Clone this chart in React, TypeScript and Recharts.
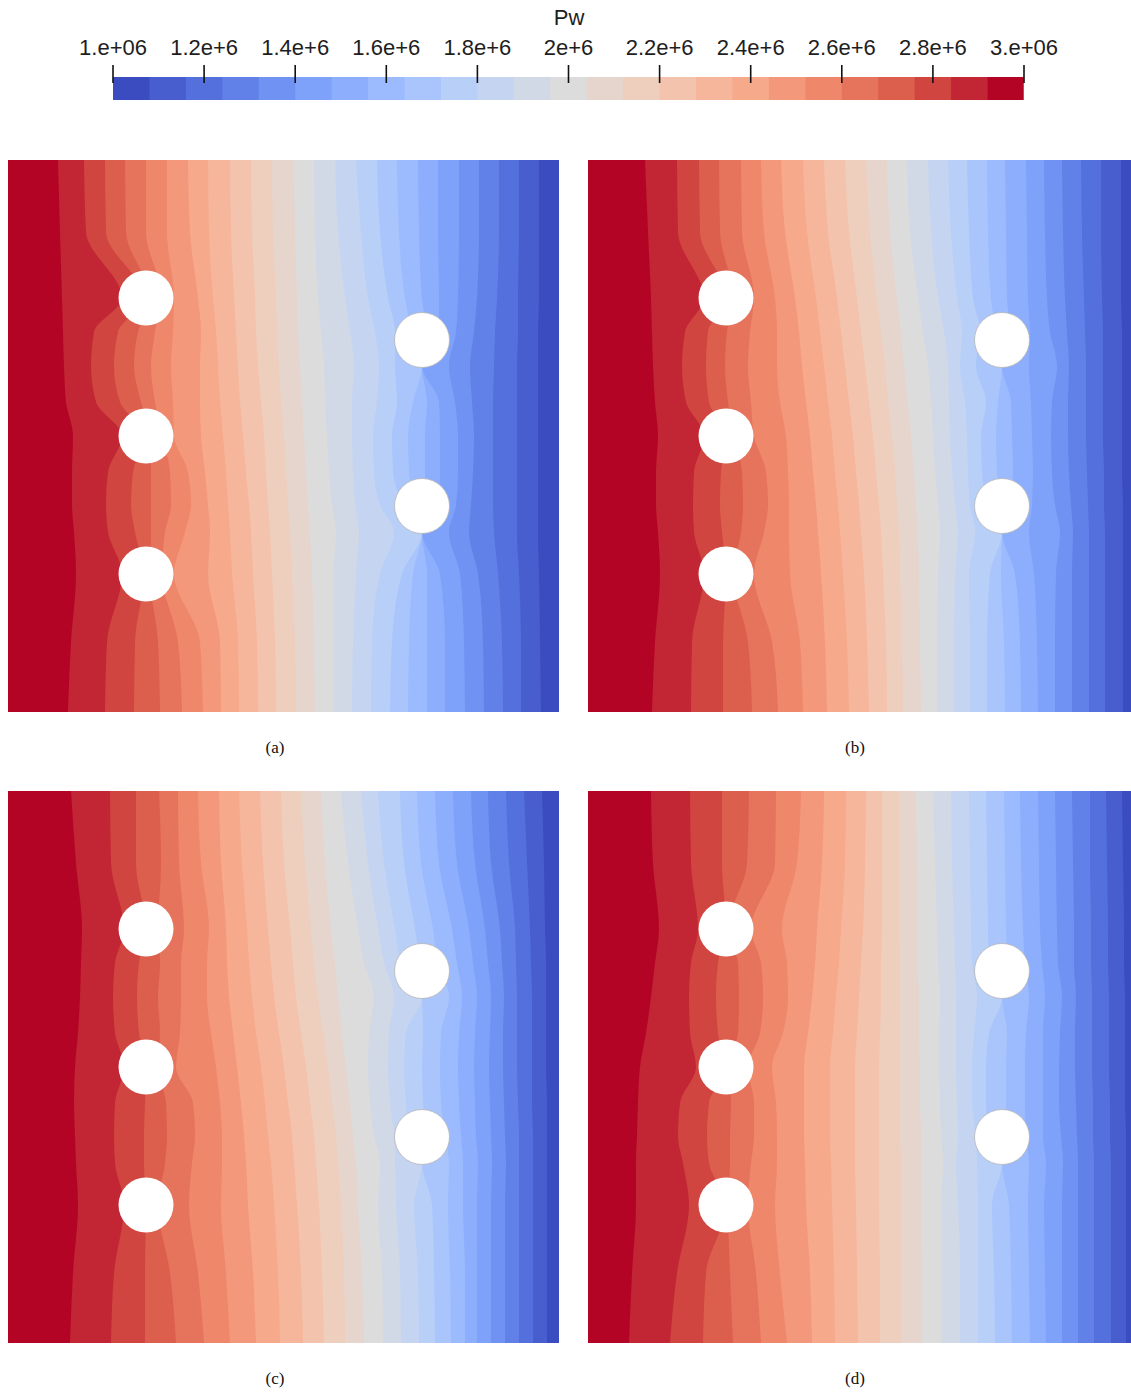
import React from 'react';
import { ComposedChart, Area, Scatter, XAxis, YAxis, Label } from 'recharts';

// 25 discrete colours of the Pw colour bar, from 1e6 (blue) to 3e6 (red)
const COLORS = [
  '#3b4cc0', '#485ecf', '#5470dd', '#6281e8', '#7092f2', '#7ea2f9', '#8caefc', '#9bbbfe',
  '#a9c5fc', '#b8cff8', '#c5d5f1', '#d1d9e6', '#dddcdc', '#e6d5cd', '#eecebd', '#f3c3ad',
  '#f5b69c', '#f6a98b', '#f3987b', '#ef876b', '#e6735c', '#dc5f4d', '#d0453f', '#c22533', '#b40426',
];
const LEVELS = [
  1000000, 1080000, 1160000, 1240000, 1320000, 1400000, 1480000, 1560000, 1640000, 1720000,
  1800000, 1880000, 1960000, 2040000, 2120000, 2200000, 2280000, 2360000, 2440000, 2520000,
  2600000, 2680000, 2760000, 2840000, 2920000, 3000000,
];
const TICKS = [1000000, 1200000, 1400000, 1600000, 1800000, 2000000, 2200000, 2400000, 2600000, 2800000, 3000000];
const TICK_LABELS = ['1.e+06', '1.2e+6', '1.4e+6', '1.6e+6', '1.8e+6', '2e+6', '2.2e+6', '2.4e+6', '2.6e+6', '2.8e+6', '3.e+06'];
const BAR_TITLE = 'Pw';
const BAR_ROWS_Y = [0, 1];

// vertical sample positions (px from panel top) where contour boundaries were read
const Y_SAMPLES = [0, 70, 138, 180, 207, 240, 276, 310, 346, 380, 414, 480, 552];

// contour boundaries B0 (3e6 side) .. B23 (1e6 side): x position (px) at each Y sample
const PANEL_A = [
  [60, 63, 68, 66, 64, 64, 65, 58, 56, 55, 54, 52, 50],
  [97, 99, 114, 100, 98, 100, 114, 88, 83, 86, 114, 78, 76],
  [126, 127, 136, 127, 123, 125, 136, 112, 106, 110, 136, 98, 97],
  [152, 150, 142, 143, 143, 143, 142, 133, 126, 130, 142, 118, 117],
  [174, 170, 154, 157, 163, 162, 154, 147, 143, 147, 154, 138, 138],
  [195, 192, 166, 177, 183, 180, 166, 165, 163, 165, 166, 159, 159],
  [213, 212, 200, 202, 200, 197, 193, 192, 192, 193, 190, 182, 180],
  [231, 230, 224, 222, 220, 218, 215, 212, 210, 208, 205, 201, 200],
  [250, 249, 245, 243, 241, 238, 235, 232, 230, 228, 226, 223, 222],
  [268, 267, 264, 262, 260, 258, 256, 253, 250, 248, 247, 244, 243],
  [288, 287, 284, 282, 280, 278, 276, 273, 271, 269, 268, 265, 264],
  [307, 306, 304, 302, 300, 298, 296, 294, 292, 290, 289, 287, 286],
  [325, 325, 325, 328, 324, 321, 319, 317, 316, 313, 310, 307, 306],
  [344, 345, 348, 351, 347, 345, 344, 344, 346, 342, 337, 330, 327],
  [363, 364, 372, 386, 372, 366, 365, 369, 371, 367, 360, 353, 348],
  [382, 384, 394, 414, 396, 385, 384, 389, 387, 387, 380, 372, 369],
  [400, 401, 405, 414, 409, 401, 400, 405, 414, 404, 397, 391, 389],
  [419, 419, 419, 414, 419, 417, 417, 419, 414, 418, 414, 411, 410],
  [437, 437, 432, 414, 430, 432, 432, 431, 414, 431, 431, 430, 430],
  [457, 456, 452, 441, 448, 450, 450, 447, 441, 448, 450, 451, 451],
  [476, 475, 470, 461, 463, 465, 466, 464, 462, 466, 469, 471, 471],
  [495, 494, 490, 486, 485, 485, 485, 485, 486, 487, 489, 491, 491],
  [513, 513, 511, 509, 509, 509, 509, 509, 509, 510, 510, 511, 511],
  [533, 532, 531, 530, 530, 530, 530, 530, 530, 530, 531, 531, 531],
];
const PANEL_B = [
  [64, 67, 72, 70, 68, 68, 70, 67, 65, 64, 63, 60, 57],
  [103, 104, 116, 106, 105, 106, 116, 98, 94, 97, 116, 90, 89],
  [135, 135, 138, 134, 132, 133, 138, 121, 118, 120, 138, 112, 111],
  [164, 160, 145, 153, 155, 154, 145, 140, 137, 139, 145, 132, 131],
  [190, 184, 166, 176, 180, 178, 166, 163, 160, 162, 166, 154, 153],
  [215, 212, 202, 201, 201, 200, 198, 192, 189, 189, 187, 176, 173],
  [239, 237, 233, 230, 228, 225, 222, 218, 214, 211, 207, 197, 193],
  [261, 259, 255, 252, 250, 247, 244, 240, 236, 232, 228, 219, 215],
  [281, 279, 276, 273, 271, 268, 265, 261, 257, 253, 249, 240, 236],
  [299, 298, 295, 293, 291, 288, 285, 281, 277, 273, 269, 261, 257],
  [315, 314, 312, 311, 309, 307, 304, 300, 297, 293, 289, 282, 278],
  [333, 332, 331, 330, 328, 326, 323, 320, 316, 313, 309, 302, 299],
  [349, 349, 350, 352, 350, 347, 345, 343, 340, 335, 330, 322, 319],
  [366, 366, 367, 370, 367, 364, 362, 361, 360, 356, 350, 343, 340],
  [382, 382, 381, 387, 382, 380, 379, 377, 372, 374, 369, 363, 360],
  [399, 399, 402, 414, 400, 394, 393, 398, 388, 392, 385, 381, 379],
  [417, 416, 413, 414, 412, 409, 408, 410, 414, 408, 403, 400, 399],
  [433, 432, 427, 414, 424, 425, 424, 423, 414, 422, 419, 418, 417],
  [450, 449, 446, 441, 444, 445, 444, 443, 441, 442, 440, 439, 438],
  [467, 467, 468, 472, 467, 464, 463, 464, 469, 462, 459, 457, 456],
  [484, 484, 484, 485, 483, 481, 480, 480, 481, 479, 477, 475, 474],
  [501, 501, 501, 501, 500, 499, 498, 498, 498, 497, 496, 494, 493],
  [517, 517, 517, 517, 516, 516, 515, 515, 515, 515, 514, 513, 513],
  [535, 535, 535, 535, 535, 534, 534, 534, 534, 534, 533, 533, 533],
];
const PANEL_C = [
  [62, 65, 70, 68, 67, 66, 67, 70, 72, 73, 74, 68, 63],
  [103, 106, 116, 107, 106, 107, 116, 107, 105, 107, 116, 103, 102],
  [137, 137, 138, 136, 136, 137, 138, 131, 129, 131, 138, 128, 128],
  [168, 162, 150, 157, 159, 158, 150, 152, 150, 152, 150, 153, 151],
  [196, 190, 181, 184, 187, 185, 168, 172, 173, 173, 176, 171, 170],
  [222, 218, 213, 214, 214, 212, 208, 203, 199, 199, 201, 193, 190],
  [248, 245, 240, 238, 236, 233, 229, 225, 221, 219, 218, 213, 211],
  [272, 270, 266, 263, 260, 257, 253, 248, 244, 241, 239, 234, 231],
  [295, 293, 289, 286, 284, 280, 276, 271, 266, 263, 260, 255, 252],
  [316, 314, 311, 308, 306, 302, 298, 293, 288, 285, 282, 276, 273],
  [337, 336, 333, 330, 328, 324, 320, 315, 310, 306, 303, 297, 293],
  [356, 354, 350, 348, 345, 342, 338, 334, 330, 327, 323, 317, 313],
  [375, 374, 370, 372, 366, 362, 360, 361, 366, 356, 350, 340, 333],
  [393, 392, 388, 387, 386, 382, 380, 381, 386, 376, 370, 360, 353],
  [411, 410, 406, 414, 401, 398, 396, 398, 414, 393, 387, 376, 370],
  [427, 426, 424, 414, 418, 415, 414, 415, 414, 412, 407, 396, 392],
  [443, 442, 440, 441, 437, 433, 432, 433, 441, 430, 425, 413, 409],
  [457, 457, 455, 455, 453, 451, 450, 451, 454, 449, 444, 431, 427],
  [469, 469, 469, 470, 468, 467, 466, 467, 469, 465, 461, 449, 445],
  [483, 483, 483, 484, 483, 482, 481, 482, 483, 480, 477, 467, 463],
  [497, 497, 497, 498, 497, 496, 495, 495, 496, 494, 492, 483, 480],
  [511, 511, 511, 511, 511, 510, 509, 509, 509, 508, 507, 501, 498],
  [525, 525, 525, 525, 525, 524, 524, 524, 524, 523, 522, 519, 516],
  [539, 539, 539, 539, 539, 539, 538, 538, 538, 538, 537, 536, 534],
];
const PANEL_D = [
  [41, 44, 48, 48, 49, 50, 52, 58, 63, 67, 71, 65, 63],
  [82, 89, 101, 95, 90, 92, 108, 102, 101, 103, 110, 103, 102],
  [115, 118, 138, 121, 119, 121, 138, 130, 128, 130, 138, 134, 134],
  [145, 142, 140, 142, 142, 143, 140, 150, 151, 150, 140, 159, 161],
  [173, 168, 160, 163, 166, 166, 160, 172, 175, 173, 163, 187, 188],
  [199, 192, 187, 189, 189, 188, 184, 195, 200, 199, 194, 209, 213],
  [224, 222, 218, 217, 216, 216, 216, 220, 224, 227, 229, 234, 236],
  [247, 246, 244, 243, 242, 242, 242, 245, 248, 251, 253, 257, 258],
  [270, 269, 268, 267, 267, 267, 267, 269, 271, 273, 275, 277, 278],
  [292, 292, 291, 291, 291, 291, 291, 292, 293, 293, 294, 294, 294],
  [313, 313, 313, 313, 312, 312, 312, 312, 312, 312, 311, 311, 311],
  [334, 334, 333, 333, 333, 332, 332, 331, 331, 330, 330, 329, 328],
  [353, 353, 353, 355, 353, 352, 351, 351, 352, 350, 349, 347, 345],
  [372, 372, 370, 368, 370, 369, 368, 368, 368, 367, 366, 364, 363],
  [390, 390, 390, 389, 388, 384, 384, 386, 389, 384, 383, 382, 381],
  [407, 406, 404, 414, 400, 398, 398, 401, 414, 401, 400, 399, 398],
  [424, 423, 421, 414, 419, 418, 418, 419, 414, 419, 418, 417, 416],
  [442, 441, 440, 441, 438, 437, 437, 438, 441, 437, 435, 433, 432],
  [458, 457, 456, 458, 455, 455, 455, 455, 457, 454, 452, 451, 450],
  [474, 474, 474, 475, 473, 471, 471, 472, 474, 470, 469, 468, 467],
  [490, 490, 490, 490, 489, 488, 487, 487, 488, 486, 486, 485, 484],
  [506, 506, 506, 506, 505, 505, 504, 504, 504, 503, 503, 502, 502],
  [523, 523, 523, 523, 522, 522, 521, 521, 521, 520, 520, 519, 518],
  [538, 538, 538, 538, 538, 537, 537, 537, 537, 536, 536, 535, 534],
];

// circular holes (px within a panel): three on the left column, two on the right
const HOLES = [
  { x: 138, y: 138, r: 27.5 },
  { x: 138, y: 276, r: 27.5 },
  { x: 138, y: 414, r: 27.5 },
  { x: 414, y: 180, r: 27.5 },
  { x: 414, y: 346, r: 27.5 },
];

const PANEL_H = 552;
const PANELS = [
  { name: '(a)', bounds: PANEL_A, left: 8, top: 160, width: 551 },
  { name: '(b)', bounds: PANEL_B, left: 588, top: 160, width: 543 },
  { name: '(c)', bounds: PANEL_C, left: 8, top: 791, width: 551 },
  { name: '(d)', bounds: PANEL_D, left: 588, top: 791, width: 543 },
];

const HoleShape = (props: any) => {
  const r = props.payload && props.payload.r ? props.payload.r : 27.5;
  const rightColumn = props.payload && props.payload.x > 300;
  return (
    <circle
      cx={props.cx}
      cy={props.cy}
      r={r}
      fill="#ffffff"
      stroke={rightColumn ? '#b4b4b4' : 'none'}
      strokeWidth={0.8}
    />
  );
};

const NO_MARGIN = { top: 0, right: 0, bottom: 0, left: 0 };

function ContourPanel({ bounds, width }: { bounds: number[][]; width: number }) {
  const rows = Y_SAMPLES.map((y, j) => {
    const row: any = { y, edge: width };
    bounds.forEach((b, k) => {
      row['b' + k] = b[j];
    });
    return row;
  });
  const order = bounds.map((_, k) => bounds.length - 1 - k);
  return (
    <ComposedChart layout="vertical" width={width} height={PANEL_H} data={rows} margin={NO_MARGIN}>
      <XAxis type="number" domain={[0, width]} hide allowDataOverflow />
      <YAxis type="number" dataKey="y" domain={[0, PANEL_H]} reversed hide allowDataOverflow />
      <Area
        dataKey="edge"
        type="linear"
        fill={COLORS[0]}
        fillOpacity={1}
        stroke="none"
        baseValue={0}
        dot={false}
        activeDot={false}
        isAnimationActive={false}
      />
      {order.map((k) => (
        <Area
          key={k}
          dataKey={'b' + k}
          type="monotone"
          fill={COLORS[COLORS.length - 1 - k]}
          fillOpacity={1}
          stroke="none"
          baseValue={0}
          dot={false}
          activeDot={false}
          isAnimationActive={false}
        />
      ))}
    </ComposedChart>
  );
}

function HolesLayer({ width }: { width: number }) {
  return (
    <ComposedChart width={width} height={PANEL_H} margin={NO_MARGIN}>
      <XAxis type="number" dataKey="x" domain={[0, width]} hide allowDataOverflow />
      <YAxis type="number" dataKey="y" domain={[0, PANEL_H]} reversed hide allowDataOverflow />
      <Scatter data={HOLES} shape={HoleShape} isAnimationActive={false} />
    </ComposedChart>
  );
}

const FONT = "'Liberation Sans', Arial, sans-serif";

function BarTick(props: any) {
  const { x, payload } = props;
  const idx = TICKS.indexOf(payload.value);
  return (
    <g>
      <line x1={x} x2={x} y1={65} y2={83} stroke="#111" strokeWidth={1.6} />
      <text x={x} y={55} textAnchor="middle" fontFamily={FONT} fontSize={22} fill="#1e1e1e">
        {TICK_LABELS[idx]}
      </text>
    </g>
  );
}

function ColorBar() {
  // each row holds the upper edge of every colour bin; bins are painted from the top value down
  const rows = BAR_ROWS_Y.map((y) => {
    const row: any = { y };
    COLORS.forEach((_, i) => {
      row['l' + i] = LEVELS[i + 1];
    });
    return row;
  });
  const order = COLORS.map((_, i) => COLORS.length - 1 - i);
  return (
    <ComposedChart
      layout="vertical"
      width={1131}
      height={110}
      data={rows}
      margin={{ top: 17, right: 107, bottom: 10, left: 113 }}
    >
      <XAxis
        type="number"
        domain={[1000000, 3000000]}
        ticks={TICKS}
        interval={0}
        orientation="top"
        height={60}
        axisLine={false}
        tickLine={false}
        tick={<BarTick />}
        allowDataOverflow
      >
        <Label
          content={() => (
            <text x={569} y={25} textAnchor="middle" fontFamily={FONT} fontSize={22} fill="#1e1e1e">
              {BAR_TITLE}
            </text>
          )}
        />
      </XAxis>
      <YAxis type="number" dataKey="y" domain={[0, 1]} hide />
      {order.map((i) => (
        <Area
          key={i}
          dataKey={'l' + i}
          type="linear"
          fill={COLORS[i]}
          fillOpacity={1}
          stroke={i === COLORS.length - 1 ? '#a0a0a0' : 'none'}
          strokeWidth={1}
          baseValue={1000000}
          dot={false}
          activeDot={false}
          isAnimationActive={false}
        />
      ))}
    </ComposedChart>
  );
}

export default function App() {
  return (
    <div
      style={{
        position: 'absolute',
        left: 0,
        top: 0,
        width: 1131,
        height: 1393,
        overflow: 'hidden',
        background: '#ffffff',
      }}
    >
      <div style={{ position: 'absolute', left: 0, top: 0 }}>
        <ColorBar />
      </div>
      {PANELS.map((p) => (
        <React.Fragment key={p.name}>
          <div style={{ position: 'absolute', left: p.left, top: p.top, width: p.width, height: PANEL_H }}>
            <ContourPanel bounds={p.bounds} width={p.width} />
          </div>
          <div style={{ position: 'absolute', left: p.left, top: p.top, width: p.width, height: PANEL_H }}>
            <HolesLayer width={p.width} />
          </div>
          <div
            style={{
              position: 'absolute',
              left: p.left + 267 - 40,
              top: p.top + PANEL_H + 26,
              width: 80,
              textAlign: 'center',
              fontFamily: "'Liberation Serif', 'Times New Roman', serif",
              fontSize: 17,
              color: '#111',
              lineHeight: '20px',
            }}
          >
            {p.name}
          </div>
        </React.Fragment>
      ))}
    </div>
  );
}
